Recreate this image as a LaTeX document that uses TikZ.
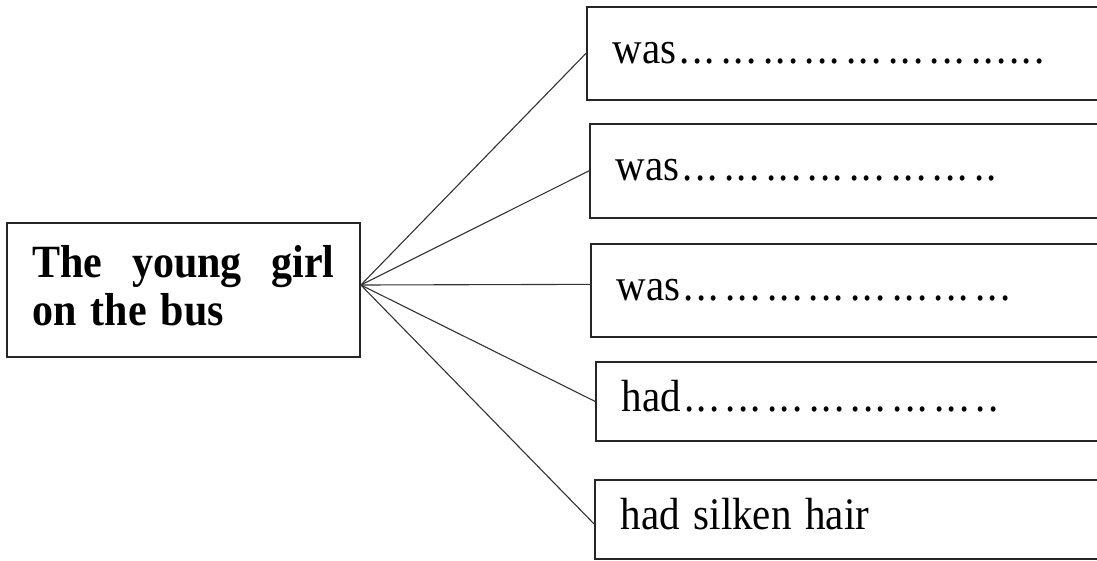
\documentclass[tikz,border=0pt]{standalone}
\usepackage{fontspec}
\usepackage{graphicx}
\setmainfont{Liberation Serif}
\usetikzlibrary{calc}
\newcommand{\grp}{.\kern2.25pt.\kern2.25pt.\kern6.45pt}
\newcommand{\sdt}{.\kern2.25pt}
\newcommand{\tall}[1]{\scalebox{1}[1.1]{#1}}
\begin{document}
\begin{tikzpicture}[x=1pt,y=-1pt,
  girlbox/.style={draw=black!85,line width=1.7pt,rectangle,minimum width=353pt,minimum height=134pt,
    inner xsep=25.5pt,text width=302pt,align=left,font=\fontsize{42}{43.6}\selectfont\bfseries},
  answerbox/.style={draw=black!85,line width=1.7pt,rectangle,anchor=north west,minimum width=520pt,
    inner xsep=26pt,text width=468pt,align=left,text height=28pt,text depth=8pt,
    font=\fontsize{41}{48}\selectfont},
  link/.style={draw=black!80,line width=1.1pt}]
\useasboundingbox[fill=white] (0,0) rectangle (1097,560);
\node[girlbox] (girl) at (183.5,290) {\tall{\parbox{302pt}{The\hfill young\hfill girl\\on the bus\par\vspace*{8pt}}}};
\node[answerbox,minimum height=93pt] (a1) at (586,6) {\tall{was\kern3pt\grp\grp\grp\grp\grp\grp\grp\sdt\sdt\sdt\sdt\sdt.}};
\node[answerbox,minimum height=94pt] (a2) at (589,123) {\tall{was\kern3pt\grp\grp\grp\grp\grp\grp\grp\sdt.}};
\node[answerbox,minimum height=93pt] (a3) at (590,243) {\tall{was\kern3pt\grp\grp\grp\grp\grp\grp\grp.\kern2.25pt.\kern2.25pt.}};
\node[answerbox,minimum height=79pt] (a4) at (595,361) {\tall{had\kern3pt\grp\grp\grp\grp\grp\grp\grp\sdt.}};
\node[answerbox,minimum height=79pt] (a5) at (594,479) {\tall{had silken hair}};
\coordinate (hub) at ($(girl.east)+(0,-5)$);
\draw[link] (hub) -- (a1.west);
\draw[link] (hub) -- (a2.west);
\draw[link] (hub) -- ($(a3.west)+(0,-6)$);
\draw[link] (hub) -- (a4.west);
\draw[link] (hub) -- ($(a5.west)+(0,4.5)$);
\end{tikzpicture}
\end{document}
